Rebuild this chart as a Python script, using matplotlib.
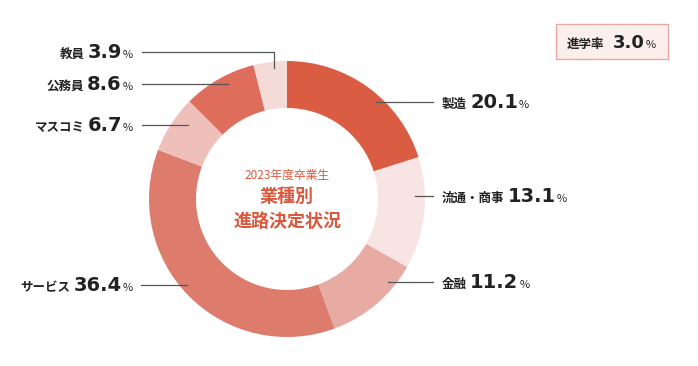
import matplotlib
matplotlib.use('Agg')
import matplotlib.pyplot as plt
from matplotlib.patches import FancyBboxPatch

plt.rcParams['font.family'] = ['Noto Sans CJK JP', 'DejaVu Sans']

# data (clockwise from 12 o'clock)
categories = ['製造', '流通・商事', '金融', 'サービス', 'マスコミ', '公務員', '教員']
shares = [20.1, 13.1, 11.2, 36.4, 6.7, 8.6, 3.9]
colors = ['#da5c43', '#f8e5e3', '#e8aba3', '#dd7b6d', '#efc0ba', '#de6d5c', '#f4dbd7']
value_labels = ['20.1', '13.1', '11.2', '36.4', '6.7', '8.6', '3.9']
advance_rate = '3.0'

W, H = 698, 366
fig = plt.figure(figsize=(W / 100, H / 100), dpi=100)
ax = fig.add_axes([0, 0, 1, 1])

cx, cy = 287, H - 199
r_out, r_in = 138, 91

ax.pie(shares, colors=colors, startangle=90, counterclock=False,
       center=(cx, cy), radius=r_out,
       wedgeprops=dict(width=r_out - r_in, linewidth=0))
ax.set_xlim(0, W)
ax.set_ylim(0, H)
ax.set_aspect('equal')
ax.axis('off')

renderer = fig.canvas.get_renderer()
txt_color = '#222222'
num_font = 'DejaVu Sans'


def piece(x, y, s, size, ha, family=None, weight='bold'):
    kw = {}
    if family:
        kw['family'] = family
    t = ax.text(x, y, s, fontsize=size, fontweight=weight, color=txt_color,
                ha=ha, va='baseline', **kw)
    bb = t.get_window_extent(renderer)
    return bb.width


def label_right(x, y, cat, val):
    # left aligned: category, value, %
    w = piece(x, y, cat, 9, 'left')
    x += w + 3
    w = piece(x, y, val, 14, 'left', num_font)
    x += w + 1
    piece(x, y, '%', 8, 'left', weight='normal')


def label_left(x, y, cat, val):
    # right aligned at x: category, value, %
    w = piece(x, y, '%', 8, 'right', weight='normal')
    x -= w + 1
    w = piece(x, y, val, 14, 'right', num_font)
    x -= w + 3
    piece(x, y, cat, 9, 'right')


line_kw = dict(color='#555555', linewidth=0.9)

def yy(v):
    return H - v

# leader lines (pixel positions)
ax.plot([376, 433], [yy(102), yy(102)], **line_kw)
ax.plot([415, 433], [yy(196), yy(196)], **line_kw)
ax.plot([388, 433], [yy(282), yy(282)], **line_kw)
ax.plot([142, 274, 274], [yy(52), yy(52), yy(68)], **line_kw)
ax.plot([142, 228], [yy(84), yy(84)], **line_kw)
ax.plot([142, 188], [yy(125), yy(125)], **line_kw)
ax.plot([141, 187], [yy(285), yy(285)], **line_kw)

# labels
label_right(442, yy(108), categories[0], value_labels[0])
label_right(442, yy(202), categories[1], value_labels[1])
label_right(442, yy(288), categories[2], value_labels[2])
label_left(133, yy(291), categories[3], value_labels[3])
label_left(133, yy(131), categories[4], value_labels[4])
label_left(133, yy(90), categories[5], value_labels[5])
label_left(133, yy(58), categories[6], value_labels[6])

# centre title
accent = '#d9593f'
ax.text(cx, yy(175), '2023年度卒業生', fontsize=8.5, color=accent,
        ha='center', va='center')
ax.text(cx, yy(196), '業種別', fontsize=13, fontweight='bold', color=accent,
        ha='center', va='center')
ax.text(cx, yy(221), '進路決定状況', fontsize=13, fontweight='bold', color=accent,
        ha='center', va='center')

# advance rate box
box = FancyBboxPatch((556, yy(59)), 112, 35, boxstyle='square,pad=0',
                     facecolor='#fbefed', edgecolor='#eaa9a0', linewidth=1)
ax.add_patch(box)
bx = 567
w = piece(bx, yy(48), '進学率', 9, 'left')
bx += w + 8
w = piece(bx, yy(48), advance_rate, 13, 'left', num_font)
bx += w + 1
piece(bx, yy(48), '%', 8, 'left', weight='normal')

fig.savefig('out.png', dpi=100)
